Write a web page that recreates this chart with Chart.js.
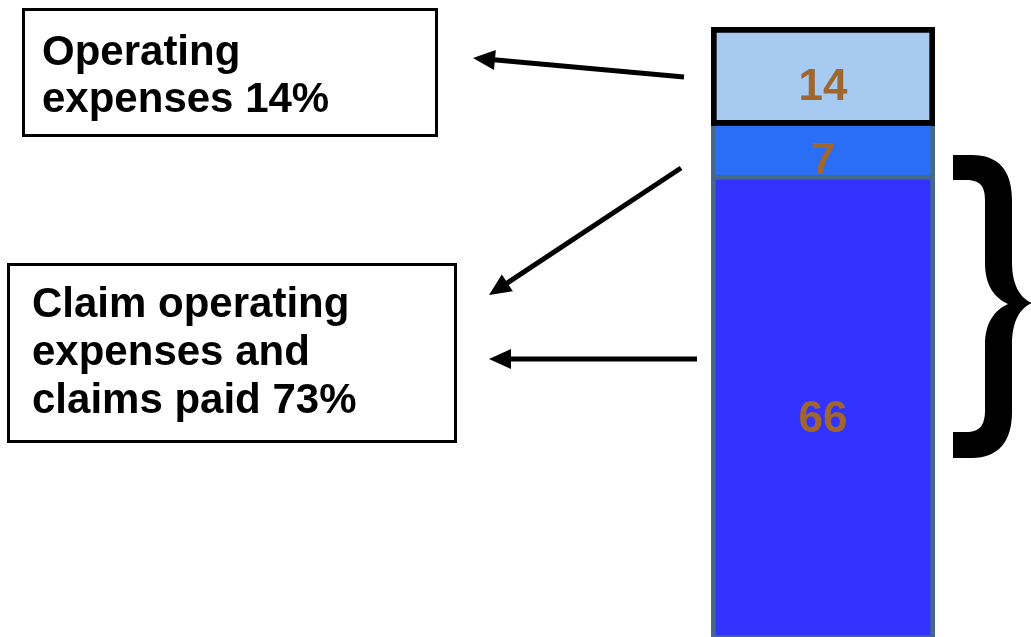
<!DOCTYPE html>
<html>
<head>
<meta charset="utf-8">
<script src="https://cdn.jsdelivr.net/npm/chart.js@4/dist/chart.umd.min.js"></script>
<style>
  html, body { margin: 0; padding: 0; background: #fff; overflow: hidden; }
  #wrap { position: relative; width: 1031px; height: 642px; }
</style>
</head>
<body>
<div id="wrap"><canvas id="costChart"></canvas></div>
<script>
const categories = ["Premium"];
const segmentNames = ["Claims paid", "Claim operating expenses", "Operating expenses"];
const claimsPaid = [66];
const claimOpExpenses = [7];
const operatingExpenses = [14];

const FONT = '"Liberation Sans", Arial, Helvetica, sans-serif';

// callout boxes and arrows beside the bar
const calloutPlugin = {
  id: "callouts",
  afterDraw(chart) {
    const ctx = chart.ctx;
    ctx.save();

    ctx.strokeStyle = "#000";
    ctx.lineWidth = 3;
    ctx.strokeRect(23.5, 9.5, 413, 126);
    ctx.strokeRect(8.5, 264.5, 447, 177);

    ctx.fillStyle = "#000";
    ctx.font = "bold 42px " + FONT;
    ctx.textBaseline = "alphabetic";
    ctx.textAlign = "left";
    ctx.fillText("Operating", 42, 65);
    ctx.fillText("expenses 14%", 42, 112);
    ctx.fillText("Claim operating", 32, 317);
    ctx.fillText("expenses and", 32, 365);
    ctx.fillText("claims paid 73%", 32, 413);

    const arrow = (x1, y1, x2, y2) => {
      const ang = Math.atan2(y2 - y1, x2 - x1);
      const len = 22, half = 10;
      const bx = x2 - Math.cos(ang) * len, by = y2 - Math.sin(ang) * len;
      ctx.beginPath();
      ctx.moveTo(x1, y1);
      ctx.lineTo(bx + Math.cos(ang) * 4, by + Math.sin(ang) * 4);
      ctx.lineWidth = 5;
      ctx.lineCap = "butt";
      ctx.stroke();
      ctx.beginPath();
      ctx.moveTo(x2, y2);
      ctx.lineTo(bx - Math.sin(ang) * half, by + Math.cos(ang) * half);
      ctx.lineTo(bx + Math.sin(ang) * half, by - Math.cos(ang) * half);
      ctx.closePath();
      ctx.fill();
    };
    arrow(684, 77, 473, 58);
    arrow(681, 168, 489, 295);
    arrow(697, 359, 489, 359);

    // curly brace grouping the two claim segments, filled as a glyph outline
    ctx.beginPath();
    ctx.moveTo(953, 155);
    ctx.lineTo(972, 155);
    ctx.bezierCurveTo(998, 155, 1012, 170, 1012, 200);
    ctx.lineTo(1012, 262);
    ctx.bezierCurveTo(1012, 285, 1020, 298, 1032, 303);
    ctx.bezierCurveTo(1020, 308, 1012, 321, 1012, 345);
    ctx.lineTo(1012, 412);
    ctx.bezierCurveTo(1012, 442, 998, 458, 972, 458);
    ctx.lineTo(953, 458);
    ctx.lineTo(953, 432);
    ctx.lineTo(966, 432);
    ctx.bezierCurveTo(980, 432, 985, 425, 985, 410);
    ctx.lineTo(985, 345);
    ctx.bezierCurveTo(985, 322, 995, 310, 1008, 304);
    ctx.bezierCurveTo(995, 298, 985, 286, 985, 263);
    ctx.lineTo(985, 200);
    ctx.bezierCurveTo(985, 186, 980, 180, 966, 180);
    ctx.lineTo(953, 180);
    ctx.closePath();
    ctx.fill();

    ctx.restore();
  }
};

// value written inside each stacked segment
const segmentLabelPlugin = {
  id: "segmentLabels",
  afterDatasetsDraw(chart) {
    const ctx = chart.ctx;
    ctx.save();
    ctx.font = "bold 44px " + FONT;
    ctx.fillStyle = "#a0662e";
    ctx.textAlign = "center";
    ctx.textBaseline = "middle";
    chart.data.datasets.forEach((ds, i) => {
      chart.getDatasetMeta(i).data.forEach((bar, j) => {
        const cy = (bar.y + bar.base) / 2 + 12;
        ctx.fillText(String(ds.data[j]), bar.x, cy);
      });
    });
    ctx.restore();
  }
};

const total = claimsPaid[0] + claimOpExpenses[0] + operatingExpenses[0];

new Chart(document.getElementById("costChart"), {
  type: "bar",
  data: {
    labels: categories,
    datasets: [
      {
        label: segmentNames[0],
        data: claimsPaid,
        backgroundColor: "#3333ff",
        borderColor: "#46698a",
        borderWidth: 5,
        borderSkipped: false
      },
      {
        label: segmentNames[1],
        data: claimOpExpenses,
        backgroundColor: "#2a6ef6",
        borderColor: "#46698a",
        borderWidth: { top: 0, bottom: 0, left: 5, right: 5 },
        borderSkipped: false
      },
      {
        label: segmentNames[2],
        data: operatingExpenses,
        backgroundColor: "#a6caf0",
        borderColor: "#000000",
        borderWidth: 6,
        borderSkipped: false
      }
    ]
  },
  options: {
    responsive: true,
    maintainAspectRatio: false,
    animation: false,
    datasets: { bar: { categoryPercentage: 1, barPercentage: 1 } },
    layout: { padding: { left: 711, right: 96, top: 27, bottom: 2 } },
    plugins: { legend: { display: false }, tooltip: { enabled: false } },
    scales: {
      x: { stacked: true, display: false, grid: { display: false } },
      y: { stacked: true, display: false, min: 0, max: total, grid: { display: false } }
    }
  },
  plugins: [segmentLabelPlugin, calloutPlugin]
});
</script>
</body>
</html>
